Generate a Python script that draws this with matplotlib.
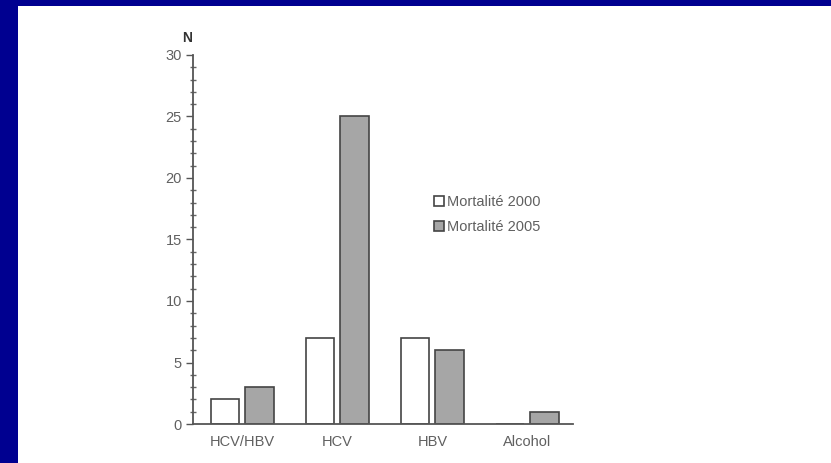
import matplotlib
matplotlib.use("Agg")
import matplotlib.pyplot as plt
from matplotlib.patches import Rectangle
from matplotlib.ticker import MultipleLocator
import numpy as np

categories = ["HCV/HBV", "HCV", "HBV", "Alcohol"]
mort_2000 = [2, 7, 7, 0]
mort_2005 = [3, 25, 6, 1]
series_names = ["Mortalité 2000", "Mortalité 2005"]

fam = ["Liberation Sans", "DejaVu Sans"]
txt = "#606060"

fig = plt.figure(figsize=(8.31, 4.63), dpi=100)
fig.patch.set_facecolor("#000090")
# white slide panel
fig.patches.append(Rectangle((18 / 831, 0), 1, 1 - 6 / 463, transform=fig.transFigure,
                             facecolor="white", edgecolor="none", zorder=-10))

ax = fig.add_axes([193 / 831, 39 / 463, 380 / 831, 369 / 463])
ax.set_facecolor("none")
ax.set_zorder(5)

x = np.arange(len(categories))
w = 0.295
off = 0.18
ax.bar(x - off, mort_2000, w, facecolor="white", edgecolor="#444444", linewidth=1.2,
       label=series_names[0])
ax.bar(x + off, mort_2005, w, facecolor="#a6a6a6", edgecolor="#444444", linewidth=1.2,
       label=series_names[1])

ax.set_xlim(-0.52, 3.48)
ax.set_ylim(0, 30)
ax.set_xticks(x)
ax.set_xticklabels(categories, family=fam, fontsize=10.5, color=txt)
ax.yaxis.set_major_locator(MultipleLocator(5))
ax.yaxis.set_minor_locator(MultipleLocator(1))
ax.tick_params(axis="x", length=0, pad=8)
ax.tick_params(axis="y", which="major", length=5, width=1, color="#555555",
               labelcolor=txt, labelsize=10.5, pad=3, direction="out")
ax.tick_params(axis="y", which="minor", length=4, width=1, color="#666666", direction="inout")
for lab in ax.get_yticklabels():
    lab.set_family(fam)

for s in ["top", "right"]:
    ax.spines[s].set_visible(False)
for s in ["left", "bottom"]:
    ax.spines[s].set_color("#555555")
    ax.spines[s].set_linewidth(1.3)

ax.text(-0.016, 1.046, "N", family=fam, fontsize=10, fontweight="bold", color="#333333",
        ha="center", va="center", transform=ax.transAxes, clip_on=False)

leg = ax.legend(loc="upper left", bbox_to_anchor=(0.6, 0.655), frameon=False,
                prop={"family": fam, "size": 10.5}, handlelength=0.7, handleheight=0.7,
                handletextpad=0.2, labelspacing=0.75)
for t in leg.get_texts():
    t.set_color(txt)

fig.savefig("out.png", dpi=100, facecolor=fig.get_facecolor())
